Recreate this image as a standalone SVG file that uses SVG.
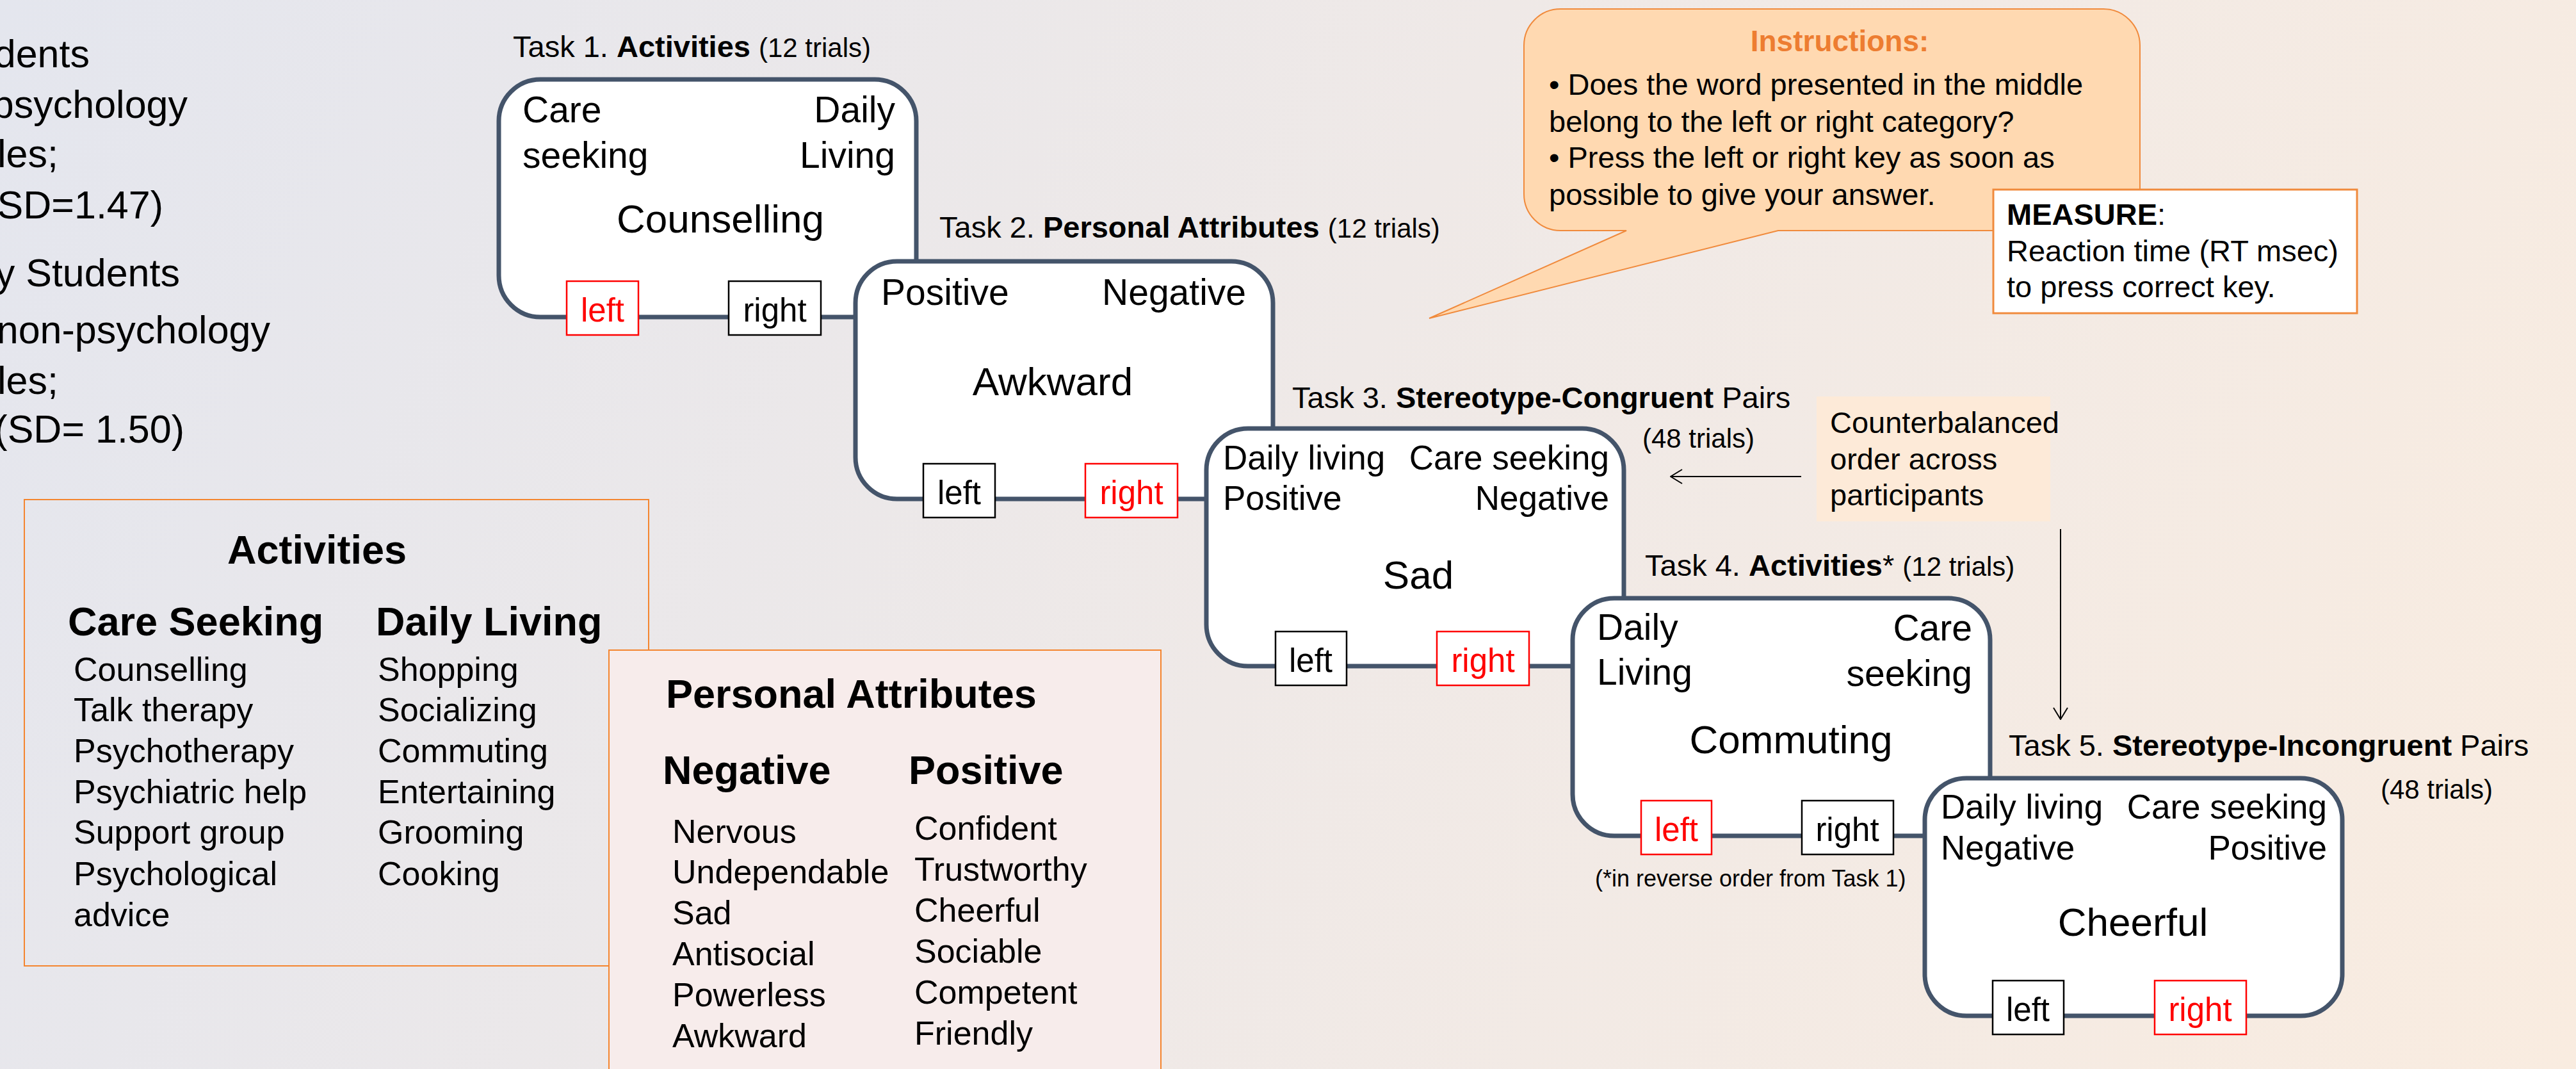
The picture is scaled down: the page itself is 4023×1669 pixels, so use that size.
<svg xmlns="http://www.w3.org/2000/svg" width="4023" height="1669" viewBox="0 0 4023 1669">
<defs>
<linearGradient id="bg" x1="0" y1="0" x2="4023" y2="1669" gradientUnits="userSpaceOnUse">
<stop offset="0" stop-color="#E4E6EE"/>
<stop offset="0.5" stop-color="#EFE9E7"/>
<stop offset="1" stop-color="#F9ECE0"/>
</linearGradient>
<marker id="open" viewBox="0 0 20 24" refX="19" refY="12" markerWidth="20" markerHeight="24" orient="auto" markerUnits="userSpaceOnUse">
<path d="M1,1 L19,12 L1,23" fill="none" stroke="#000" stroke-width="2"/>
</marker>
<style>
text{font-family:"Liberation Sans",Arial,Helvetica,sans-serif;fill:#000}
.box{fill:#fff;stroke:#44546A;stroke-width:7}
.keyR{fill:#fff;stroke:#FF0000;stroke-width:2.5}
.keyB{fill:#fff;stroke:#000;stroke-width:2.5}
.kt{font-size:51px;text-anchor:middle}
.kr{fill:#FF0000}
.c57{font-size:57px}
.c53{font-size:53px}
.mid{font-size:62px;text-anchor:middle}
.end{text-anchor:end}
.lbl{font-size:47px}
.tr{font-size:42px}
.b{font-weight:bold}
.side{font-size:61px;text-anchor:end}
.leg{font-size:52px}
.legh{font-size:63px;font-weight:bold}
.ins{font-size:47px}
.conn{stroke:#000;stroke-width:2;fill:none;marker-end:url(#open)}
</style>
</defs>
<rect x="0" y="0" width="4023" height="1669" fill="url(#bg)"/>

<g id="participants">
<text class="side" x="140" y="105">dents</text>
<text class="side" x="293" y="184">psychology</text>
<text class="side" x="91" y="261">les;</text>
<text class="side" x="255" y="341">SD=1.47)</text>
<text class="side" x="281" y="447">y Students</text>
<text class="side" x="422" y="536">non-psychology</text>
<text class="side" x="91" y="615">les;</text>
<text class="side" x="288" y="691">(SD= 1.50)</text>
</g>

<g id="activities-legend">
<rect x="38" y="780" width="975" height="728" fill="none" stroke="#F4852F" stroke-width="2"/>
<text class="legh" x="495" y="880" text-anchor="middle">Activities</text>
<text class="legh" x="106" y="992">Care Seeking</text>
<text class="legh" x="587" y="992">Daily Living</text>
<text class="leg" x="115" y="1063">Counselling</text>
<text class="leg" x="115" y="1126">Talk therapy</text>
<text class="leg" x="115" y="1190">Psychotherapy</text>
<text class="leg" x="115" y="1254">Psychiatric help</text>
<text class="leg" x="115" y="1317">Support group</text>
<text class="leg" x="115" y="1382">Psychological</text>
<text class="leg" x="115" y="1446">advice</text>
<text class="leg" x="590" y="1063">Shopping</text>
<text class="leg" x="590" y="1126">Socializing</text>
<text class="leg" x="590" y="1190">Commuting</text>
<text class="leg" x="590" y="1254">Entertaining</text>
<text class="leg" x="590" y="1317">Grooming</text>
<text class="leg" x="590" y="1382">Cooking</text>
</g>

<g id="attributes-legend">
<rect x="951" y="1015" width="862" height="670" fill="#F7ECEB" stroke="#F4852F" stroke-width="2"/>
<text class="legh" x="1040" y="1105">Personal Attributes</text>
<text class="legh" x="1035" y="1224">Negative</text>
<text class="legh" x="1419" y="1224">Positive</text>
<text class="leg" x="1050" y="1316">Nervous</text>
<text class="leg" x="1050" y="1379">Undependable</text>
<text class="leg" x="1050" y="1443">Sad</text>
<text class="leg" x="1050" y="1507">Antisocial</text>
<text class="leg" x="1050" y="1571">Powerless</text>
<text class="leg" x="1050" y="1635">Awkward</text>
<text class="leg" x="1428" y="1311">Confident</text>
<text class="leg" x="1428" y="1375">Trustworthy</text>
<text class="leg" x="1428" y="1439">Cheerful</text>
<text class="leg" x="1428" y="1503">Sociable</text>
<text class="leg" x="1428" y="1567">Competent</text>
<text class="leg" x="1428" y="1631">Friendly</text>
</g>

<g id="task1">
<text class="lbl" x="801" y="89">Task 1. <tspan class="b">Activities</tspan> <tspan class="tr">(12 trials)</tspan></text>
<rect class="box" x="779" y="124" width="652" height="371" rx="65" ry="65"/>
<text class="c57" x="816" y="191">Care</text>
<text class="c57" x="816" y="262">seeking</text>
<text class="c57 end" x="1398" y="191">Daily</text>
<text class="c57 end" x="1398" y="262">Living</text>
<text class="mid" x="1125" y="363">Counselling</text>
</g>

<g id="task2">
<text class="lbl" x="1467" y="371">Task 2. <tspan class="b">Personal Attributes</tspan> <tspan class="tr">(12 trials)</tspan></text>
<rect class="box" x="1336" y="408" width="652" height="371" rx="65" ry="65"/>
<text class="c57" x="1376" y="476">Positive</text>
<text class="c57 end" x="1946" y="476">Negative</text>
<text class="mid" x="1644" y="617">Awkward</text>
</g>

<g id="task3">
<text class="lbl" x="2018" y="637">Task 3. <tspan class="b">Stereotype-Congruent</tspan> Pairs</text>
<text class="tr" x="2565" y="699">(48 trials)</text>
<rect class="box" x="1884" y="669" width="652" height="371" rx="65" ry="65"/>
<text class="c53" x="1910" y="733">Daily living</text>
<text class="c53 end" x="2513" y="733">Care seeking</text>
<text class="c53" x="1910" y="796">Positive</text>
<text class="c53 end" x="2513" y="796">Negative</text>
<text class="mid" x="2215" y="919">Sad</text>
</g>

<g id="task4">
<text class="lbl" x="2569" y="899">Task 4. <tspan class="b">Activities</tspan>* <tspan class="tr">(12 trials)</tspan></text>
<rect class="box" x="2456" y="934" width="652" height="371" rx="65" ry="65"/>
<text class="c57" x="2494" y="999">Daily</text>
<text class="c57" x="2494" y="1069">Living</text>
<text class="c57 end" x="3080" y="1000">Care</text>
<text class="c57 end" x="3080" y="1071">seeking</text>
<text class="mid" x="2797" y="1176">Commuting</text>
<text x="2491" y="1384" font-size="36">(*in reverse order from Task 1)</text>
</g>

<g id="task5">
<text class="lbl" x="3137" y="1180">Task 5. <tspan class="b">Stereotype-Incongruent</tspan> Pairs</text>
<text class="tr" x="3718" y="1247">(48 trials)</text>
<rect class="box" x="3006" y="1215" width="652" height="371" rx="65" ry="65"/>
<text class="c53" x="3031" y="1278">Daily living</text>
<text class="c53 end" x="3634" y="1278">Care seeking</text>
<text class="c53" x="3031" y="1342">Negative</text>
<text class="c53 end" x="3634" y="1342">Positive</text>
<text class="mid" x="3331" y="1461">Cheerful</text>
</g>

<g id="keys">
<rect class="keyR" x="885" y="439" width="112" height="84"/><text class="kt kr" x="941" y="502">left</text>
<rect class="keyB" x="1138" y="439" width="144" height="84"/><text class="kt" x="1210" y="502">right</text>
<rect class="keyB" x="1442" y="724" width="112" height="84"/><text class="kt" x="1498" y="787">left</text>
<rect class="keyR" x="1695" y="724" width="144" height="84"/><text class="kt kr" x="1767" y="787">right</text>
<rect class="keyB" x="1992" y="986" width="111" height="84"/><text class="kt" x="2047" y="1049">left</text>
<rect class="keyR" x="2244" y="986" width="144" height="84"/><text class="kt kr" x="2316" y="1049">right</text>
<rect class="keyR" x="2563" y="1250" width="110" height="84"/><text class="kt kr" x="2618" y="1313">left</text>
<rect class="keyB" x="2814" y="1250" width="143" height="84"/><text class="kt" x="2885" y="1313">right</text>
<rect class="keyB" x="3112" y="1531" width="111" height="84"/><text class="kt" x="3167" y="1594">left</text>
<rect class="keyR" x="3365" y="1531" width="143" height="84"/><text class="kt kr" x="3436" y="1594">right</text>
</g>

<g id="instructions">
<path d="M2437,14 H3285 A57,57 0 0 1 3342,71 V303 A57,57 0 0 1 3285,360 H2777 L2232,497 L2540,360 H2437 A57,57 0 0 1 2380,303 V71 A57,57 0 0 1 2437,14 Z" fill="#FFD9B1" stroke="#F08A3C" stroke-width="2"/>
<text x="2873" y="80" font-size="46" font-weight="bold" fill="#ED7D31" text-anchor="middle" style="fill:#ED7D31">Instructions:</text>
<text class="ins" x="2419" y="148">• Does the word presented in the middle</text>
<text class="ins" x="2419" y="206">belong to the left or right category?</text>
<text class="ins" x="2419" y="262">• Press the left or right key as soon as</text>
<text class="ins" x="2419" y="320">possible to give your answer.</text>
</g>

<g id="measure">
<rect x="3113" y="296" width="568" height="193" fill="#fff" stroke="#F08A3C" stroke-width="3"/>
<text class="ins" x="3134" y="351"><tspan class="b">MEASURE</tspan>:</text>
<text class="ins" x="3134" y="408">Reaction time (RT msec)</text>
<text class="ins" x="3134" y="464">to press correct key.</text>
</g>

<g id="counterbalance">
<rect x="2837" y="619" width="365" height="195" fill="#FDEAD8"/>
<text class="ins" x="2858" y="676">Counterbalanced</text>
<text class="ins" x="2858" y="733">order across</text>
<text class="ins" x="2858" y="789">participants</text>
</g>

<g id="connectors">
<line class="conn" x1="2813" y1="744" x2="2609" y2="744"/>
<line class="conn" x1="3218" y1="826" x2="3218" y2="1123"/>
</g>
</svg>
